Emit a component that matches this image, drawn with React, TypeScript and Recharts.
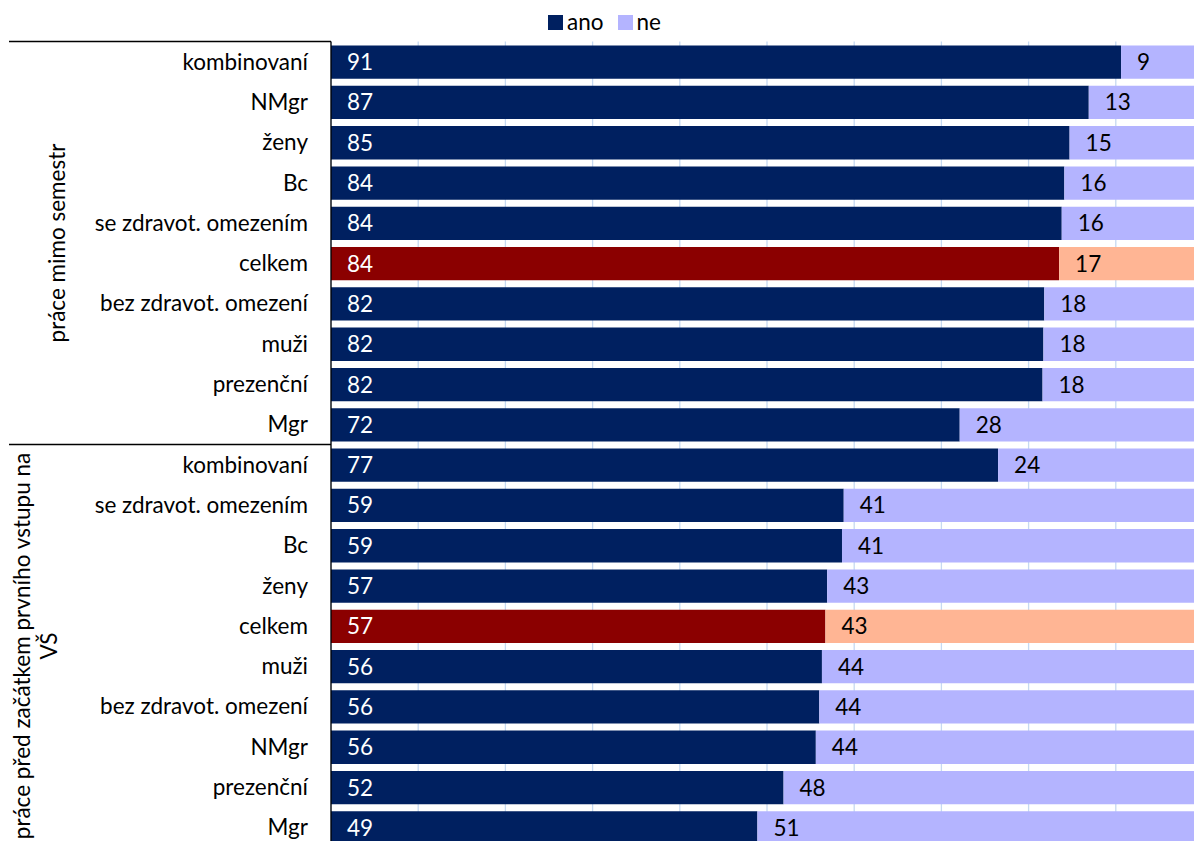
import React from "react";
import { BarChart, Bar, XAxis, YAxis, CartesianGrid, Legend, Cell, LabelList } from "recharts";

const categories = [
  "kombinovaní", "NMgr", "ženy", "Bc", "se zdravot. omezením", "celkem",
  "bez zdravot. omezení", "muži", "prezenční", "Mgr",
  "kombinovaní", "se zdravot. omezením", "Bc", "ženy", "celkem", "muži",
  "bez zdravot. omezení", "NMgr", "prezenční", "Mgr",
];
const anoValues = [90.6, 86.9, 84.7, 84.1, 83.8, 83.5, 81.8, 81.7, 81.6, 72.1, 76.5, 58.8, 58.6, 56.9, 56.7, 56.3, 56.0, 55.6, 51.9, 48.9];
const neValues = [9.4, 13.1, 15.3, 15.9, 16.2, 16.5, 18.2, 18.3, 18.4, 27.9, 23.5, 41.2, 41.4, 43.1, 43.3, 43.7, 44.0, 44.4, 48.1, 51.1];
const groups = [
  { lines: ["práce mimo semestr"], size: 10 },
  { lines: ["práce před začátkem prvního vstupu na", "VŠ"], size: 10 },
];
const xTicks = [0, 10, 20, 30, 40, 50, 60, 70, 80, 90, 100];

const FONT = "Lato, 'Open Sans', sans-serif";
const FS = 22.5;
const ANO = "#002060";
const NE = "#b4b4ff";
const ANO_HI = "#8b0000";
const NE_HI = "#ffb594";

const CHART_W = 1215;
const PLOT_TOP = 41.5;
const PLOT_H = 806;
const CHART_H = 848;
const AXIS_W = 331;
const LEGEND_H = 24;

const data = categories.map((name, i) => ({
  id: i,
  name,
  ano: anoValues[i],
  ne: neValues[i],
}));

const isTotal = (name: string) => name === "celkem";

function LegendContent() {
  const item = (color: string, text: string, gap: number) => (
    <span style={{ display: "inline-flex", alignItems: "center", marginLeft: gap }}>
      <span style={{ width: 15, height: 15, background: color, display: "inline-block", marginRight: 4 }} />
      <span>{text}</span>
    </span>
  );
  return (
    <div
      style={{
        display: "flex",
        justifyContent: "center",
        height: LEGEND_H,
        lineHeight: `${LEGEND_H}px`,
        fontFamily: FONT,
        fontSize: FS,
        color: "#000",
      }}
    >
      {item(ANO, "ano", 0)}
      {item(NE, "ne", 14)}
    </div>
  );
}

// two-level category axis: group separators and rotated group names
function GroupAxis() {
  const rowH = PLOT_H / categories.length;
  let start = 0;
  return (
    <svg
      width={AXIS_W + 2}
      height={CHART_H}
      style={{ position: "absolute", left: 0, top: 0, pointerEvents: "none" }}
    >
      {groups.map((g, gi) => {
        const y0 = PLOT_TOP + start * rowH;
        const y1 = y0 + g.size * rowH;
        start += g.size;
        const cy = (y0 + y1) / 2;
        const lineGap = 27;
        const baseX = g.lines.length === 1 ? 56 : 34.5;
        return (
          <g key={gi}>
            <line x1={9} x2={AXIS_W} y1={y0} y2={y0} stroke="#000" strokeWidth={1.3} />
            {g.lines.map((t, li) => {
              const x = baseX + (li - (g.lines.length - 1) / 2) * lineGap;
              return (
                <text
                  key={li}
                  x={x}
                  y={cy}
                  transform={`rotate(-90 ${x} ${cy})`}
                  textAnchor="middle"
                  dominantBaseline="central"
                  fontFamily={FONT}
                  fontSize={FS}
                  fill="#000"
                >
                  {t}
                </text>
              );
            })}
          </g>
        );
      })}
    </svg>
  );
}

export default function App() {
  return (
    <div
      style={{
        position: "absolute",
        left: 0,
        top: 0,
        width: 1194,
        height: 841,
        overflow: "hidden",
        background: "#fff",
      }}
    >
      <BarChart
        width={CHART_W}
        height={CHART_H}
        data={data}
        layout="vertical"
        margin={{ top: PLOT_TOP - LEGEND_H, right: 12, left: 0, bottom: CHART_H - PLOT_TOP - PLOT_H }}
        barSize={33.3}
      >
        <CartesianGrid horizontal={false} vertical stroke="#c6d9f1" strokeWidth={1.3} />
        <XAxis type="number" domain={[0, 100]} ticks={xTicks} hide />
        <YAxis
          type="category"
          dataKey="id"
          width={AXIS_W}
          tickFormatter={(v: number) => categories[v]}
          tickLine={false}
          tickSize={0}
          tickMargin={23}
          axisLine={{ stroke: "#000", strokeWidth: 1.3 }}
          interval={0}
          tick={{ fill: "#000", fontSize: FS, fontFamily: FONT }}
        />
        <Legend
          verticalAlign="top"
          align="center"
          content={<LegendContent />}
          wrapperStyle={{ top: 10, left: 0, width: 1209 }}
        />
        <Bar dataKey="ano" name="ano" stackId="a" fill={ANO} isAnimationActive={false}>
          {data.map((d) => (
            <Cell key={d.id} fill={isTotal(d.name) ? ANO_HI : ANO} />
          ))}
          <LabelList
            dataKey="ano"
            position="insideLeft"
            offset={16}
            formatter={(v: any) => Math.round(Number(v))}
            fill="#fff"
            fontSize={FS}
            fontFamily={FONT}
          />
        </Bar>
        <Bar dataKey="ne" name="ne" stackId="a" fill={NE} isAnimationActive={false}>
          {data.map((d) => (
            <Cell key={d.id} fill={isTotal(d.name) ? NE_HI : NE} />
          ))}
          <LabelList
            dataKey="ne"
            position="insideLeft"
            offset={16}
            formatter={(v: any) => Math.round(Number(v))}
            fill="#000"
            fontSize={FS}
            fontFamily={FONT}
          />
        </Bar>
      </BarChart>
      <GroupAxis />
    </div>
  );
}
